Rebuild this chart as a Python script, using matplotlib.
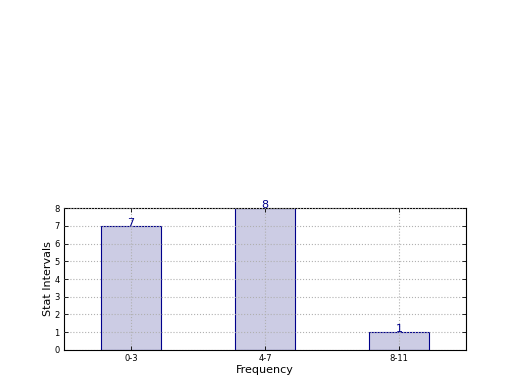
import matplotlib
matplotlib.use("Agg")
import matplotlib.pyplot as plt

categories = ["0-3", "4-7", "8-11"]
values = [7, 8, 1]
yticks = [0, 1, 2, 3, 4, 5, 6, 7, 8]

fig = plt.figure(figsize=(5.2, 3.9), dpi=100)
ax = fig.add_axes([0.123, 0.1026, 0.773, 0.364])
x = list(range(len(categories)))
ax.bar(x, values, width=0.45, color="#ccccE4", edgecolor="darkblue", linewidth=0.8, zorder=2)
for xi, v in zip(x, values):
    ax.text(xi, v - 0.1, str(v), ha="center", va="bottom", fontsize=8, color="darkblue")
ax.set_xlim(-0.5, 2.5)
ax.set_ylim(0, 8)
ax.set_xticks(x)
ax.set_xticklabels(categories)
ax.set_yticks(yticks)
ax.tick_params(direction="in", labelsize=6, top=True, right=True, length=3, width=0.6, pad=3)
ax.grid(True, linestyle=":", color="#b0b0b0", linewidth=0.8, zorder=0)
ax.set_axisbelow(False)
ax.set_xlabel("Frequency", fontsize=8, labelpad=1)
ax.set_ylabel("Stat Intervals", fontsize=8, labelpad=1)
for s in ax.spines.values():
    s.set_linewidth(0.8)
fig.savefig("out.png", dpi=100)
